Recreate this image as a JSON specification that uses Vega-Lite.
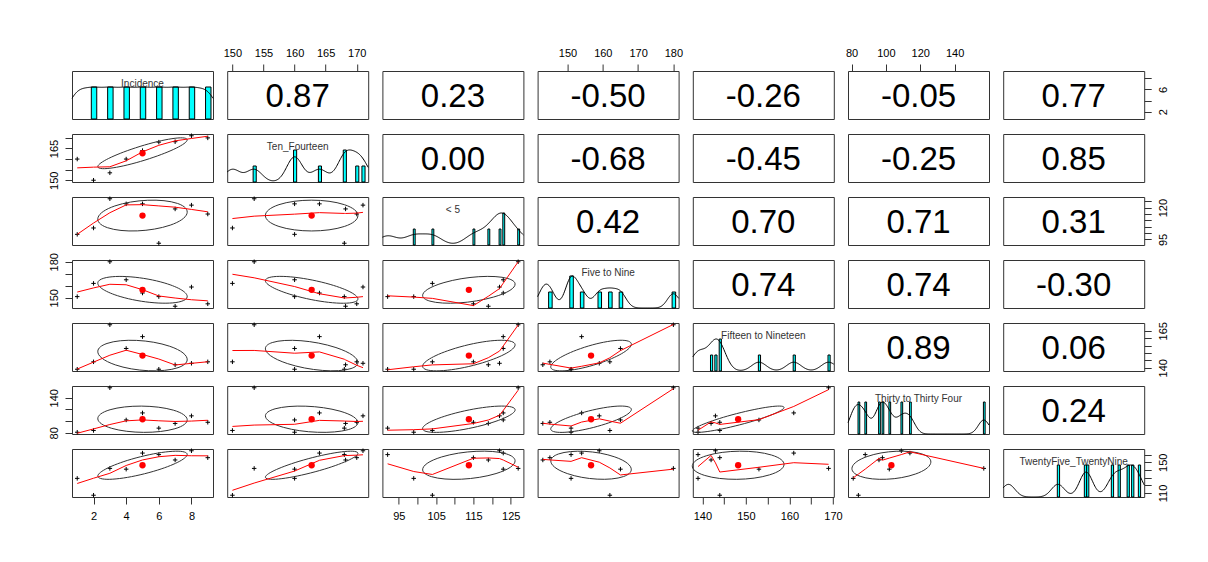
{
"$schema":"https://vega.github.io/schema/vega-lite/v6.json",
"padding":{"left":47,"top":46,"right":5,"bottom":5},
"background":"white",
"datasets":{"d":[
{"Incidence":1,"Ten_Fourteen":160,"Under5":99,"Five_Nine":151,"Fifteen_Nineteen":139,"Thirty_ThirtyFour":81,"TwentyFive_TwentyNine":129},
{"Incidence":2,"Ten_Fourteen":150,"Under5":104,"Five_Nine":162,"Fifteen_Nineteen":144,"Thirty_ThirtyFour":84,"TwentyFive_TwentyNine":107},
{"Incidence":3,"Ten_Fourteen":153.5,"Under5":127,"Five_Nine":180,"Fifteen_Nineteen":169,"Thirty_ThirtyFour":157,"TwentyFive_TwentyNine":142},
{"Incidence":4,"Ten_Fourteen":160,"Under5":123,"Five_Nine":165,"Fifteen_Nineteen":153,"Thirty_ThirtyFour":102,"TwentyFive_TwentyNine":141},
{"Incidence":5,"Ten_Fourteen":164,"Under5":123,"Five_Nine":154,"Fifteen_Nineteen":161,"Thirty_ThirtyFour":114,"TwentyFive_TwentyNine":162},
{"Incidence":6,"Ten_Fourteen":168,"Under5":92,"Five_Nine":151,"Fifteen_Nineteen":139,"Thirty_ThirtyFour":88,"TwentyFive_TwentyNine":160},
{"Incidence":7,"Ten_Fourteen":168.2,"Under5":119,"Five_Nine":143,"Fifteen_Nineteen":142,"Thirty_ThirtyFour":96,"TwentyFive_TwentyNine":153},
{"Incidence":8,"Ten_Fourteen":171,"Under5":122,"Five_Nine":159,"Fifteen_Nineteen":143,"Thirty_ThirtyFour":109,"TwentyFive_TwentyNine":165},
{"Incidence":9,"Ten_Fourteen":170,"Under5":115,"Five_Nine":145,"Fifteen_Nineteen":144,"Thirty_ThirtyFour":98,"TwentyFive_TwentyNine":156}
]},
"columns":7,
"spacing":{"row":15,"column":14.2},
"bounds":"flush",
"concat":[
{"width":141,"height":48,"data":{"name":"d"},"layer":[
 {"mark":{"type":"bar","fill":"#00FFFF","stroke":"black","strokeWidth":1,"binSpacing":0,"opacity":1},"encoding":{"x":{"field":"Incidence","bin":{"step":0.3333333,"anchor":0.8333333},"type":"quantitative","scale":{"domain":[0.68,9.32],"nice":false,"zero":false},"axis":null},"y":{"aggregate":"count","type":"quantitative","scale":{"domain":[0,1.5]},"axis":null}}},
 {"transform":[{"density":"Incidence","bandwidth":0.561,"extent":[0.68,9.32],"steps":200}],"mark":{"type":"line","color":"black","strokeWidth":1},"encoding":{"x":{"field":"value","type":"quantitative","scale":{"domain":[0.68,9.32],"nice":false,"zero":false},"axis":null},"y":{"field":"density","type":"quantitative","scale":{"domain":[0,0.1674]},"axis":null}}},
 {"data":{"values":[{"name":"Incidence"}]},"mark":{"type":"text","fontSize":10,"color":"#333"},"encoding":{"text":{"field":"name"},"x":{"datum":5,"type":"quantitative","scale":{"domain":[0.68,9.32],"nice":false,"zero":false},"axis":null},"y":{"datum":7.052,"type":"quantitative","scale":{"domain":[0.68,9.32],"nice":false,"zero":false},"axis":null}}}
],"resolve":{"scale":{"y":"independent"}}},
{"width":141,"height":48,"data":{"values":[{"r":"0.87"}]},"mark":{"type":"text","fontSize":33,"baseline":"middle","dy":2},"encoding":{"text":{"field":"r"},"x":{"datum":160.5,"type":"quantitative","scale":{"domain":[149.16,171.84],"nice":false,"zero":false},"axis":{"orient":"top","values":[150,155,160,165,170],"title":null}},"y":{"datum":0.5,"type":"quantitative","scale":{"domain":[0,1]},"axis":null}}},
{"width":141,"height":48,"data":{"values":[{"r":"0.23"}]},"mark":{"type":"text","fontSize":33,"baseline":"middle","dy":2},"encoding":{"text":{"field":"r"},"x":{"datum":0.5,"type":"quantitative","scale":{"domain":[0,1]},"axis":null},"y":{"datum":0.5,"type":"quantitative","scale":{"domain":[0,1]},"axis":null}}},
{"width":141,"height":48,"data":{"values":[{"r":"-0.50"}]},"mark":{"type":"text","fontSize":33,"baseline":"middle","dy":2},"encoding":{"text":{"field":"r"},"x":{"datum":161.5,"type":"quantitative","scale":{"domain":[141.52,181.48],"nice":false,"zero":false},"axis":{"orient":"top","values":[150,160,170,180],"title":null}},"y":{"datum":0.5,"type":"quantitative","scale":{"domain":[0,1]},"axis":null}}},
{"width":141,"height":48,"data":{"values":[{"r":"-0.26"}]},"mark":{"type":"text","fontSize":33,"baseline":"middle","dy":2},"encoding":{"text":{"field":"r"},"x":{"datum":0.5,"type":"quantitative","scale":{"domain":[0,1]},"axis":null},"y":{"datum":0.5,"type":"quantitative","scale":{"domain":[0,1]},"axis":null}}},
{"width":141,"height":48,"data":{"values":[{"r":"-0.05"}]},"mark":{"type":"text","fontSize":33,"baseline":"middle","dy":2},"encoding":{"text":{"field":"r"},"x":{"datum":119,"type":"quantitative","scale":{"domain":[77.96,160.04],"nice":false,"zero":false},"axis":{"orient":"top","values":[80,100,120,140],"title":null}},"y":{"datum":0.5,"type":"quantitative","scale":{"domain":[0,1]},"axis":null}}},
{"width":141,"height":48,"data":{"values":[{"r":"0.77"}]},"mark":{"type":"text","fontSize":33,"baseline":"middle","dy":2},"encoding":{"text":{"field":"r"},"x":{"datum":0.5,"type":"quantitative","scale":{"domain":[0,1]},"axis":null},"y":{"datum":5,"type":"quantitative","scale":{"domain":[0.68,9.32],"nice":false,"zero":false},"axis":{"orient":"right","values":[2,4,6,8],"labelExpr":"datum.value == 2 || datum.value == 6 ? datum.label : ''","title":null}}}},

{"width":141,"height":48,"data":{"name":"d"},"encoding":{"x":{"field":"Incidence","type":"quantitative","scale":{"domain":[0.68,9.32],"nice":false,"zero":false},"axis":null},"y":{"field":"Ten_Fourteen","type":"quantitative","scale":{"domain":[149.16,171.84],"nice":false,"zero":false},"axis":{"orient":"left","values":[150,155,160,165,170],"labelExpr":"datum.value == 150 || datum.value == 165 ? datum.label : ''","title":null}}},"layer":[
 {"mark":{"type":"point","shape":"M-1,0H1M0,-1V1","filled":false,"color":"black","strokeWidth":1,"size":20,"opacity":1}},
 {"transform":[{"aggregate":[{"op":"mean","field":"Incidence","as":"Incidence"},{"op":"mean","field":"Ten_Fourteen","as":"Ten_Fourteen"}]}],"layer":[
  {"mark":{"type":"point","shape":"M43.2,-14.9C36.9,-17.1 12.5,-12.2 -11.4,-3.9C-35.3,4.3 -49.5,12.7 -43.2,14.9C-36.9,17.1 -12.5,12.2 11.4,3.9C35.3,-4.3 49.5,-12.7 43.2,-14.9Z","filled":false,"color":"#333","strokeWidth":1,"size":4,"opacity":1}},
  {"mark":{"type":"point","shape":"circle","filled":true,"color":"red","size":40,"opacity":1}}]},
 {"transform":[{"loess":"Ten_Fourteen","on":"Incidence","bandwidth":0.667}],"mark":{"type":"line","color":"red","strokeWidth":1}}]},
{"width":141,"height":48,"data":{"name":"d"},"layer":[
 {"mark":{"type":"bar","fill":"#00FFFF","stroke":"black","strokeWidth":1,"binSpacing":0,"opacity":1},"encoding":{"x":{"field":"Ten_Fourteen","bin":{"step":0.5,"anchor":0.25},"type":"quantitative","scale":{"domain":[149.16,171.84],"nice":false,"zero":false},"axis":null},"y":{"aggregate":"count","type":"quantitative","scale":{"domain":[0,3]},"axis":null}}},
 {"transform":[{"density":"Ten_Fourteen","bandwidth":1.254,"extent":[149.16,171.84],"steps":200}],"mark":{"type":"line","color":"black","strokeWidth":1},"encoding":{"x":{"field":"value","type":"quantitative","scale":{"domain":[149.16,171.84],"nice":false,"zero":false},"axis":null},"y":{"field":"density","type":"quantitative","scale":{"domain":[0,0.1353]},"axis":null}}},
 {"data":{"values":[{"name":"Ten_Fourteen"}]},"mark":{"type":"text","fontSize":10,"color":"#333"},"encoding":{"text":{"field":"name"},"x":{"datum":160.5,"type":"quantitative","scale":{"domain":[149.16,171.84],"nice":false,"zero":false},"axis":null},"y":{"datum":165.887,"type":"quantitative","scale":{"domain":[149.16,171.84],"nice":false,"zero":false},"axis":null}}}
],"resolve":{"scale":{"y":"independent"}}},
{"width":141,"height":48,"data":{"values":[{"r":"0.00"}]},"mark":{"type":"text","fontSize":33,"baseline":"middle","dy":2},"encoding":{"text":{"field":"r"},"x":{"datum":0.5,"type":"quantitative","scale":{"domain":[0,1]},"axis":null},"y":{"datum":0.5,"type":"quantitative","scale":{"domain":[0,1]},"axis":null}}},
{"width":141,"height":48,"data":{"values":[{"r":"-0.68"}]},"mark":{"type":"text","fontSize":33,"baseline":"middle","dy":2},"encoding":{"text":{"field":"r"},"x":{"datum":0.5,"type":"quantitative","scale":{"domain":[0,1]},"axis":null},"y":{"datum":0.5,"type":"quantitative","scale":{"domain":[0,1]},"axis":null}}},
{"width":141,"height":48,"data":{"values":[{"r":"-0.45"}]},"mark":{"type":"text","fontSize":33,"baseline":"middle","dy":2},"encoding":{"text":{"field":"r"},"x":{"datum":0.5,"type":"quantitative","scale":{"domain":[0,1]},"axis":null},"y":{"datum":0.5,"type":"quantitative","scale":{"domain":[0,1]},"axis":null}}},
{"width":141,"height":48,"data":{"values":[{"r":"-0.25"}]},"mark":{"type":"text","fontSize":33,"baseline":"middle","dy":2},"encoding":{"text":{"field":"r"},"x":{"datum":0.5,"type":"quantitative","scale":{"domain":[0,1]},"axis":null},"y":{"datum":0.5,"type":"quantitative","scale":{"domain":[0,1]},"axis":null}}},
{"width":141,"height":48,"data":{"values":[{"r":"0.85"}]},"mark":{"type":"text","fontSize":33,"baseline":"middle","dy":2},"encoding":{"text":{"field":"r"},"x":{"datum":0.5,"type":"quantitative","scale":{"domain":[0,1]},"axis":null},"y":{"datum":0.5,"type":"quantitative","scale":{"domain":[0,1]},"axis":null}}},

{"width":141,"height":48,"data":{"name":"d"},"encoding":{"x":{"field":"Incidence","type":"quantitative","scale":{"domain":[0.68,9.32],"nice":false,"zero":false},"axis":null},"y":{"field":"Under5","type":"quantitative","scale":{"domain":[90.6,128.4],"nice":false,"zero":false},"axis":null}},"layer":[
 {"mark":{"type":"point","shape":"M-1,0H1M0,-1V1","filled":false,"color":"black","strokeWidth":1,"size":20,"opacity":1}},
 {"transform":[{"aggregate":[{"op":"mean","field":"Incidence","as":"Incidence"},{"op":"mean","field":"Under5","as":"Under5"}]}],"layer":[
  {"mark":{"type":"point","shape":"M35.1,-12.1C19.7,-17.4 -8.4,-16.2 -27.7,-9.6C-47.1,-2.9 -50.4,6.8 -35.1,12.1C-19.7,17.4 8.4,16.2 27.7,9.6C47.1,2.9 50.4,-6.8 35.1,-12.1Z","filled":false,"color":"#333","strokeWidth":1,"size":4,"opacity":1}},
  {"mark":{"type":"point","shape":"circle","filled":true,"color":"red","size":40,"opacity":1}}]},
 {"transform":[{"loess":"Under5","on":"Incidence","bandwidth":0.667}],"mark":{"type":"line","color":"red","strokeWidth":1}}]},
{"width":141,"height":48,"data":{"name":"d"},"encoding":{"x":{"field":"Ten_Fourteen","type":"quantitative","scale":{"domain":[149.16,171.84],"nice":false,"zero":false},"axis":null},"y":{"field":"Under5","type":"quantitative","scale":{"domain":[90.6,128.4],"nice":false,"zero":false},"axis":null}},"layer":[
 {"mark":{"type":"point","shape":"M-1,0H1M0,-1V1","filled":false,"color":"black","strokeWidth":1,"size":20,"opacity":1}},
 {"transform":[{"aggregate":[{"op":"mean","field":"Ten_Fourteen","as":"Ten_Fourteen"},{"op":"mean","field":"Under5","as":"Under5"}]}],"layer":[
  {"mark":{"type":"point","shape":"M32.7,-10.9C14.6,-16.9 -14.6,-16.9 -32.7,-10.9C-50.8,-4.9 -50.8,4.9 -32.7,10.9C-14.6,16.9 14.6,16.9 32.7,10.9C50.8,4.9 50.8,-4.9 32.7,-10.9Z","filled":false,"color":"#333","strokeWidth":1,"size":4,"opacity":1}},
  {"mark":{"type":"point","shape":"circle","filled":true,"color":"red","size":40,"opacity":1}}]},
 {"transform":[{"loess":"Under5","on":"Ten_Fourteen","bandwidth":0.667}],"mark":{"type":"line","color":"red","strokeWidth":1}}]},
{"width":141,"height":48,"data":{"name":"d"},"layer":[
 {"mark":{"type":"bar","fill":"#00FFFF","stroke":"black","strokeWidth":1,"binSpacing":0,"opacity":1},"encoding":{"x":{"field":"Under5","bin":{"step":0.5,"anchor":0.25},"type":"quantitative","scale":{"domain":[90.6,128.4],"nice":false,"zero":false},"axis":null},"y":{"aggregate":"count","type":"quantitative","scale":{"domain":[0,3]},"axis":null}}},
 {"transform":[{"density":"Under5","bandwidth":2.541,"extent":[90.6,128.4],"steps":200}],"mark":{"type":"line","color":"black","strokeWidth":1},"encoding":{"x":{"field":"value","type":"quantitative","scale":{"domain":[90.6,128.4],"nice":false,"zero":false},"axis":null},"y":{"field":"density","type":"quantitative","scale":{"domain":[0,0.0929]},"axis":null}}},
 {"data":{"values":[{"name":"< 5"}]},"mark":{"type":"text","fontSize":10,"color":"#333"},"encoding":{"text":{"field":"name"},"x":{"datum":109.5,"type":"quantitative","scale":{"domain":[90.6,128.4],"nice":false,"zero":false},"axis":null},"y":{"datum":118.478,"type":"quantitative","scale":{"domain":[90.6,128.4],"nice":false,"zero":false},"axis":null}}}
],"resolve":{"scale":{"y":"independent"}}},
{"width":141,"height":48,"data":{"values":[{"r":"0.42"}]},"mark":{"type":"text","fontSize":33,"baseline":"middle","dy":2},"encoding":{"text":{"field":"r"},"x":{"datum":0.5,"type":"quantitative","scale":{"domain":[0,1]},"axis":null},"y":{"datum":0.5,"type":"quantitative","scale":{"domain":[0,1]},"axis":null}}},
{"width":141,"height":48,"data":{"values":[{"r":"0.70"}]},"mark":{"type":"text","fontSize":33,"baseline":"middle","dy":2},"encoding":{"text":{"field":"r"},"x":{"datum":0.5,"type":"quantitative","scale":{"domain":[0,1]},"axis":null},"y":{"datum":0.5,"type":"quantitative","scale":{"domain":[0,1]},"axis":null}}},
{"width":141,"height":48,"data":{"values":[{"r":"0.71"}]},"mark":{"type":"text","fontSize":33,"baseline":"middle","dy":2},"encoding":{"text":{"field":"r"},"x":{"datum":0.5,"type":"quantitative","scale":{"domain":[0,1]},"axis":null},"y":{"datum":0.5,"type":"quantitative","scale":{"domain":[0,1]},"axis":null}}},
{"width":141,"height":48,"data":{"values":[{"r":"0.31"}]},"mark":{"type":"text","fontSize":33,"baseline":"middle","dy":2},"encoding":{"text":{"field":"r"},"x":{"datum":0.5,"type":"quantitative","scale":{"domain":[0,1]},"axis":null},"y":{"datum":109.5,"type":"quantitative","scale":{"domain":[90.6,128.4],"nice":false,"zero":false},"axis":{"orient":"right","values":[95,100,105,110,115,120,125],"labelExpr":"datum.value == 95 || datum.value == 120 ? datum.label : ''","title":null}}}},

{"width":141,"height":48,"data":{"name":"d"},"encoding":{"x":{"field":"Incidence","type":"quantitative","scale":{"domain":[0.68,9.32],"nice":false,"zero":false},"axis":null},"y":{"field":"Five_Nine","type":"quantitative","scale":{"domain":[141.52,181.48],"nice":false,"zero":false},"axis":{"orient":"left","values":[150,160,170,180],"labelExpr":"datum.value == 150 || datum.value == 180 ? datum.label : ''","title":null}}},"layer":[
 {"mark":{"type":"point","shape":"M-1,0H1M0,-1V1","filled":false,"color":"black","strokeWidth":1,"size":20,"opacity":1}},
 {"transform":[{"aggregate":[{"op":"mean","field":"Incidence","as":"Incidence"},{"op":"mean","field":"Five_Nine","as":"Five_Nine"}]}],"layer":[
  {"mark":{"type":"point","shape":"M22.4,-6.7C1,-13.1 -26.4,-15.3 -38.7,-11.6C-51.1,-7.9 -43.7,0.3 -22.4,6.7C-1,13.1 26.4,15.3 38.7,11.6C51.1,7.9 43.7,-0.3 22.4,-6.7Z","filled":false,"color":"#333","strokeWidth":1,"size":4,"opacity":1}},
  {"mark":{"type":"point","shape":"circle","filled":true,"color":"red","size":40,"opacity":1}}]},
 {"transform":[{"loess":"Five_Nine","on":"Incidence","bandwidth":0.667}],"mark":{"type":"line","color":"red","strokeWidth":1}}]},
{"width":141,"height":48,"data":{"name":"d"},"encoding":{"x":{"field":"Ten_Fourteen","type":"quantitative","scale":{"domain":[149.16,171.84],"nice":false,"zero":false},"axis":null},"y":{"field":"Five_Nine","type":"quantitative","scale":{"domain":[141.52,181.48],"nice":false,"zero":false},"axis":null}},"layer":[
 {"mark":{"type":"point","shape":"M-1,0H1M0,-1V1","filled":false,"color":"black","strokeWidth":1,"size":20,"opacity":1}},
 {"transform":[{"aggregate":[{"op":"mean","field":"Ten_Fourteen","as":"Ten_Fourteen"},{"op":"mean","field":"Five_Nine","as":"Five_Nine"}]}],"layer":[
  {"mark":{"type":"point","shape":"M18.5,-5.4C-4.9,-12.2 -32.2,-15.3 -42.4,-12.3C-52.6,-9.3 -41.9,-1.4 -18.5,5.4C4.9,12.2 32.2,15.3 42.4,12.3C52.6,9.3 41.9,1.4 18.5,-5.4Z","filled":false,"color":"#333","strokeWidth":1,"size":4,"opacity":1}},
  {"mark":{"type":"point","shape":"circle","filled":true,"color":"red","size":40,"opacity":1}}]},
 {"transform":[{"loess":"Five_Nine","on":"Ten_Fourteen","bandwidth":0.667}],"mark":{"type":"line","color":"red","strokeWidth":1}}]},
{"width":141,"height":48,"data":{"name":"d"},"encoding":{"x":{"field":"Under5","type":"quantitative","scale":{"domain":[90.6,128.4],"nice":false,"zero":false},"axis":null},"y":{"field":"Five_Nine","type":"quantitative","scale":{"domain":[141.52,181.48],"nice":false,"zero":false},"axis":null}},"layer":[
 {"mark":{"type":"point","shape":"M-1,0H1M0,-1V1","filled":false,"color":"black","strokeWidth":1,"size":20,"opacity":1}},
 {"transform":[{"aggregate":[{"op":"mean","field":"Under5","as":"Under5"},{"op":"mean","field":"Five_Nine","as":"Five_Nine"}]}],"layer":[
  {"mark":{"type":"point","shape":"M39,-11.3C25.2,-15.3 -3.4,-13.5 -24.9,-7.2C-46.4,-1 -52.7,7.3 -39,11.3C-25.2,15.3 3.4,13.5 24.9,7.2C46.4,1 52.7,-7.3 39,-11.3Z","filled":false,"color":"#333","strokeWidth":1,"size":4,"opacity":1}},
  {"mark":{"type":"point","shape":"circle","filled":true,"color":"red","size":40,"opacity":1}}]},
 {"transform":[{"loess":"Five_Nine","on":"Under5","bandwidth":0.667}],"mark":{"type":"line","color":"red","strokeWidth":1}}]},
{"width":141,"height":48,"data":{"name":"d"},"layer":[
 {"mark":{"type":"bar","fill":"#00FFFF","stroke":"black","strokeWidth":1,"binSpacing":0,"opacity":1},"encoding":{"x":{"field":"Five_Nine","bin":{"step":1,"anchor":0.5},"type":"quantitative","scale":{"domain":[141.52,181.48],"nice":false,"zero":false},"axis":null},"y":{"aggregate":"count","type":"quantitative","scale":{"domain":[0,3]},"axis":null}}},
 {"transform":[{"density":"Five_Nine","bandwidth":1.682,"extent":[141.52,181.48],"steps":200}],"mark":{"type":"line","color":"black","strokeWidth":1},"encoding":{"x":{"field":"value","type":"quantitative","scale":{"domain":[141.52,181.48],"nice":false,"zero":false},"axis":null},"y":{"field":"density","type":"quantitative","scale":{"domain":[0,0.0888]},"axis":null}}},
 {"data":{"values":[{"name":"Five to Nine"}]},"mark":{"type":"text","fontSize":10,"color":"#333"},"encoding":{"text":{"field":"name"},"x":{"datum":161.5,"type":"quantitative","scale":{"domain":[141.52,181.48],"nice":false,"zero":false},"axis":null},"y":{"datum":170.991,"type":"quantitative","scale":{"domain":[141.52,181.48],"nice":false,"zero":false},"axis":null}}}
],"resolve":{"scale":{"y":"independent"}}},
{"width":141,"height":48,"data":{"values":[{"r":"0.74"}]},"mark":{"type":"text","fontSize":33,"baseline":"middle","dy":2},"encoding":{"text":{"field":"r"},"x":{"datum":0.5,"type":"quantitative","scale":{"domain":[0,1]},"axis":null},"y":{"datum":0.5,"type":"quantitative","scale":{"domain":[0,1]},"axis":null}}},
{"width":141,"height":48,"data":{"values":[{"r":"0.74"}]},"mark":{"type":"text","fontSize":33,"baseline":"middle","dy":2},"encoding":{"text":{"field":"r"},"x":{"datum":0.5,"type":"quantitative","scale":{"domain":[0,1]},"axis":null},"y":{"datum":0.5,"type":"quantitative","scale":{"domain":[0,1]},"axis":null}}},
{"width":141,"height":48,"data":{"values":[{"r":"-0.30"}]},"mark":{"type":"text","fontSize":33,"baseline":"middle","dy":2},"encoding":{"text":{"field":"r"},"x":{"datum":0.5,"type":"quantitative","scale":{"domain":[0,1]},"axis":null},"y":{"datum":0.5,"type":"quantitative","scale":{"domain":[0,1]},"axis":null}}},

{"width":141,"height":48,"data":{"name":"d"},"encoding":{"x":{"field":"Incidence","type":"quantitative","scale":{"domain":[0.68,9.32],"nice":false,"zero":false},"axis":null},"y":{"field":"Fifteen_Nineteen","type":"quantitative","scale":{"domain":[137.8,170.2],"nice":false,"zero":false},"axis":null}},"layer":[
 {"mark":{"type":"point","shape":"M-1,0H1M0,-1V1","filled":false,"color":"black","strokeWidth":1,"size":20,"opacity":1}},
 {"transform":[{"aggregate":[{"op":"mean","field":"Incidence","as":"Incidence"},{"op":"mean","field":"Fifteen_Nineteen","as":"Fifteen_Nineteen"}]}],"layer":[
  {"mark":{"type":"point","shape":"M27.2,-9.3C7.6,-16 -20.5,-17.3 -35.5,-12.1C-50.5,-7 -46.8,2.6 -27.2,9.3C-7.6,16 20.5,17.3 35.5,12.1C50.5,7 46.8,-2.6 27.2,-9.3Z","filled":false,"color":"#333","strokeWidth":1,"size":4,"opacity":1}},
  {"mark":{"type":"point","shape":"circle","filled":true,"color":"red","size":40,"opacity":1}}]},
 {"transform":[{"loess":"Fifteen_Nineteen","on":"Incidence","bandwidth":0.667}],"mark":{"type":"line","color":"red","strokeWidth":1}}]},
{"width":141,"height":48,"data":{"name":"d"},"encoding":{"x":{"field":"Ten_Fourteen","type":"quantitative","scale":{"domain":[149.16,171.84],"nice":false,"zero":false},"axis":null},"y":{"field":"Fifteen_Nineteen","type":"quantitative","scale":{"domain":[137.8,170.2],"nice":false,"zero":false},"axis":null}},"layer":[
 {"mark":{"type":"point","shape":"M-1,0H1M0,-1V1","filled":false,"color":"black","strokeWidth":1,"size":20,"opacity":1}},
 {"transform":[{"aggregate":[{"op":"mean","field":"Ten_Fourteen","as":"Ten_Fourteen"},{"op":"mean","field":"Fifteen_Nineteen","as":"Fifteen_Nineteen"}]}],"layer":[
  {"mark":{"type":"point","shape":"M24.3,-8C2.5,-15.2 -26,-17.4 -39.4,-13C-52.8,-8.6 -46,0.8 -24.3,8C-2.5,15.2 26,17.4 39.4,13C52.8,8.6 46,-0.8 24.3,-8Z","filled":false,"color":"#333","strokeWidth":1,"size":4,"opacity":1}},
  {"mark":{"type":"point","shape":"circle","filled":true,"color":"red","size":40,"opacity":1}}]},
 {"transform":[{"loess":"Fifteen_Nineteen","on":"Ten_Fourteen","bandwidth":0.667}],"mark":{"type":"line","color":"red","strokeWidth":1}}]},
{"width":141,"height":48,"data":{"name":"d"},"encoding":{"x":{"field":"Under5","type":"quantitative","scale":{"domain":[90.6,128.4],"nice":false,"zero":false},"axis":null},"y":{"field":"Fifteen_Nineteen","type":"quantitative","scale":{"domain":[137.8,170.2],"nice":false,"zero":false},"axis":null}},"layer":[
 {"mark":{"type":"point","shape":"M-1,0H1M0,-1V1","filled":false,"color":"black","strokeWidth":1,"size":20,"opacity":1}},
 {"transform":[{"aggregate":[{"op":"mean","field":"Under5","as":"Under5"},{"op":"mean","field":"Fifteen_Nineteen","as":"Fifteen_Nineteen"}]}],"layer":[
  {"mark":{"type":"point","shape":"M42.6,-14.1C32.7,-17.4 5.6,-13.7 -17.9,-5.9C-41.5,1.9 -52.5,10.8 -42.6,14.1C-32.7,17.4 -5.6,13.7 17.9,5.9C41.5,-1.9 52.5,-10.8 42.6,-14.1Z","filled":false,"color":"#333","strokeWidth":1,"size":4,"opacity":1}},
  {"mark":{"type":"point","shape":"circle","filled":true,"color":"red","size":40,"opacity":1}}]},
 {"transform":[{"loess":"Fifteen_Nineteen","on":"Under5","bandwidth":0.667}],"mark":{"type":"line","color":"red","strokeWidth":1}}]},
{"width":141,"height":48,"data":{"name":"d"},"encoding":{"x":{"field":"Five_Nine","type":"quantitative","scale":{"domain":[141.52,181.48],"nice":false,"zero":false},"axis":null},"y":{"field":"Fifteen_Nineteen","type":"quantitative","scale":{"domain":[137.8,170.2],"nice":false,"zero":false},"axis":null}},"layer":[
 {"mark":{"type":"point","shape":"M-1,0H1M0,-1V1","filled":false,"color":"black","strokeWidth":1,"size":20,"opacity":1}},
 {"transform":[{"aggregate":[{"op":"mean","field":"Five_Nine","as":"Five_Nine"},{"op":"mean","field":"Fifteen_Nineteen","as":"Fifteen_Nineteen"}]}],"layer":[
  {"mark":{"type":"point","shape":"M37.6,-14.3C29.5,-17.3 6.2,-13.4 -14.5,-5.5C-35.3,2.4 -45.6,11.2 -37.6,14.3C-29.5,17.3 -6.2,13.4 14.5,5.5C35.3,-2.4 45.6,-11.2 37.6,-14.3Z","filled":false,"color":"#333","strokeWidth":1,"size":4,"opacity":1}},
  {"mark":{"type":"point","shape":"circle","filled":true,"color":"red","size":40,"opacity":1}}]},
 {"transform":[{"loess":"Fifteen_Nineteen","on":"Five_Nine","bandwidth":0.667}],"mark":{"type":"line","color":"red","strokeWidth":1}}]},
{"width":141,"height":48,"data":{"name":"d"},"layer":[
 {"mark":{"type":"bar","fill":"#00FFFF","stroke":"black","strokeWidth":1,"binSpacing":0,"opacity":1},"encoding":{"x":{"field":"Fifteen_Nineteen","bin":{"step":0.5,"anchor":0.25},"type":"quantitative","scale":{"domain":[137.8,170.2],"nice":false,"zero":false},"axis":null},"y":{"aggregate":"count","type":"quantitative","scale":{"domain":[0,3]},"axis":null}}},
 {"transform":[{"density":"Fifteen_Nineteen","bandwidth":1.682,"extent":[137.8,170.2],"steps":200}],"mark":{"type":"line","color":"black","strokeWidth":1},"encoding":{"x":{"field":"value","type":"quantitative","scale":{"domain":[137.8,170.2],"nice":false,"zero":false},"axis":null},"y":{"field":"density","type":"quantitative","scale":{"domain":[0,0.1439]},"axis":null}}},
 {"data":{"values":[{"name":"Fifteen to Nineteen"}]},"mark":{"type":"text","fontSize":10,"color":"#333"},"encoding":{"text":{"field":"name"},"x":{"datum":154,"type":"quantitative","scale":{"domain":[137.8,170.2],"nice":false,"zero":false},"axis":null},"y":{"datum":161.695,"type":"quantitative","scale":{"domain":[137.8,170.2],"nice":false,"zero":false},"axis":null}}}
],"resolve":{"scale":{"y":"independent"}}},
{"width":141,"height":48,"data":{"values":[{"r":"0.89"}]},"mark":{"type":"text","fontSize":33,"baseline":"middle","dy":2},"encoding":{"text":{"field":"r"},"x":{"datum":0.5,"type":"quantitative","scale":{"domain":[0,1]},"axis":null},"y":{"datum":0.5,"type":"quantitative","scale":{"domain":[0,1]},"axis":null}}},
{"width":141,"height":48,"data":{"values":[{"r":"0.06"}]},"mark":{"type":"text","fontSize":33,"baseline":"middle","dy":2},"encoding":{"text":{"field":"r"},"x":{"datum":0.5,"type":"quantitative","scale":{"domain":[0,1]},"axis":null},"y":{"datum":154,"type":"quantitative","scale":{"domain":[137.8,170.2],"nice":false,"zero":false},"axis":{"orient":"right","values":[140,145,150,155,160,165],"labelExpr":"datum.value == 140 || datum.value == 165 ? datum.label : ''","title":null}}}},

{"width":141,"height":48,"data":{"name":"d"},"encoding":{"x":{"field":"Incidence","type":"quantitative","scale":{"domain":[0.68,9.32],"nice":false,"zero":false},"axis":null},"y":{"field":"Thirty_ThirtyFour","type":"quantitative","scale":{"domain":[77.96,160.04],"nice":false,"zero":false},"axis":{"orient":"left","values":[80,100,120,140],"labelExpr":"datum.value == 80 || datum.value == 140 ? datum.label : ''","title":null}}},"layer":[
 {"mark":{"type":"point","shape":"M-1,0H1M0,-1V1","filled":false,"color":"black","strokeWidth":1,"size":20,"opacity":1}},
 {"transform":[{"aggregate":[{"op":"mean","field":"Incidence","as":"Incidence"},{"op":"mean","field":"Thirty_ThirtyFour","as":"Thirty_ThirtyFour"}]}],"layer":[
  {"mark":{"type":"point","shape":"M30.8,-9.1C12.9,-14.3 -15.4,-14.5 -32.4,-9.5C-49.4,-4.5 -48.7,3.8 -30.8,9.1C-12.9,14.3 15.4,14.5 32.4,9.5C49.4,4.5 48.7,-3.8 30.8,-9.1Z","filled":false,"color":"#333","strokeWidth":1,"size":4,"opacity":1}},
  {"mark":{"type":"point","shape":"circle","filled":true,"color":"red","size":40,"opacity":1}}]},
 {"transform":[{"loess":"Thirty_ThirtyFour","on":"Incidence","bandwidth":0.667}],"mark":{"type":"line","color":"red","strokeWidth":1}}]},
{"width":141,"height":48,"data":{"name":"d"},"encoding":{"x":{"field":"Ten_Fourteen","type":"quantitative","scale":{"domain":[149.16,171.84],"nice":false,"zero":false},"axis":null},"y":{"field":"Thirty_ThirtyFour","type":"quantitative","scale":{"domain":[77.96,160.04],"nice":false,"zero":false},"axis":null}},"layer":[
 {"mark":{"type":"point","shape":"M-1,0H1M0,-1V1","filled":false,"color":"black","strokeWidth":1,"size":20,"opacity":1}},
 {"transform":[{"aggregate":[{"op":"mean","field":"Ten_Fourteen","as":"Ten_Fourteen"},{"op":"mean","field":"Thirty_ThirtyFour","as":"Thirty_ThirtyFour"}]}],"layer":[
  {"mark":{"type":"point","shape":"M28.3,-8.1C8.1,-13.8 -20.9,-14.8 -36.6,-10.4C-52.2,-5.9 -48.5,2.3 -28.3,8.1C-8.1,13.8 20.9,14.8 36.6,10.4C52.2,5.9 48.5,-2.3 28.3,-8.1Z","filled":false,"color":"#333","strokeWidth":1,"size":4,"opacity":1}},
  {"mark":{"type":"point","shape":"circle","filled":true,"color":"red","size":40,"opacity":1}}]},
 {"transform":[{"loess":"Thirty_ThirtyFour","on":"Ten_Fourteen","bandwidth":0.667}],"mark":{"type":"line","color":"red","strokeWidth":1}}]},
{"width":141,"height":48,"data":{"name":"d"},"encoding":{"x":{"field":"Under5","type":"quantitative","scale":{"domain":[90.6,128.4],"nice":false,"zero":false},"axis":null},"y":{"field":"Thirty_ThirtyFour","type":"quantitative","scale":{"domain":[77.96,160.04],"nice":false,"zero":false},"axis":null}},"layer":[
 {"mark":{"type":"point","shape":"M-1,0H1M0,-1V1","filled":false,"color":"black","strokeWidth":1,"size":20,"opacity":1}},
 {"transform":[{"aggregate":[{"op":"mean","field":"Under5","as":"Under5"},{"op":"mean","field":"Thirty_ThirtyFour","as":"Thirty_ThirtyFour"}]}],"layer":[
  {"mark":{"type":"point","shape":"M42.8,-12.2C33,-14.9 6,-11.7 -17.6,-5C-41.2,1.7 -52.5,9.4 -42.8,12.2C-33,14.9 -6,11.7 17.6,5C41.2,-1.7 52.5,-9.4 42.8,-12.2Z","filled":false,"color":"#333","strokeWidth":1,"size":4,"opacity":1}},
  {"mark":{"type":"point","shape":"circle","filled":true,"color":"red","size":40,"opacity":1}}]},
 {"transform":[{"loess":"Thirty_ThirtyFour","on":"Under5","bandwidth":0.667}],"mark":{"type":"line","color":"red","strokeWidth":1}}]},
{"width":141,"height":48,"data":{"name":"d"},"encoding":{"x":{"field":"Five_Nine","type":"quantitative","scale":{"domain":[141.52,181.48],"nice":false,"zero":false},"axis":null},"y":{"field":"Thirty_ThirtyFour","type":"quantitative","scale":{"domain":[77.96,160.04],"nice":false,"zero":false},"axis":null}},"layer":[
 {"mark":{"type":"point","shape":"M-1,0H1M0,-1V1","filled":false,"color":"black","strokeWidth":1,"size":20,"opacity":1}},
 {"transform":[{"aggregate":[{"op":"mean","field":"Five_Nine","as":"Five_Nine"},{"op":"mean","field":"Thirty_ThirtyFour","as":"Thirty_ThirtyFour"}]}],"layer":[
  {"mark":{"type":"point","shape":"M37.6,-12.3C29.5,-14.9 6.2,-11.5 -14.5,-4.7C-35.3,2 -45.6,9.6 -37.6,12.3C-29.5,14.9 -6.2,11.5 14.5,4.7C35.3,-2 45.6,-9.6 37.6,-12.3Z","filled":false,"color":"#333","strokeWidth":1,"size":4,"opacity":1}},
  {"mark":{"type":"point","shape":"circle","filled":true,"color":"red","size":40,"opacity":1}}]},
 {"transform":[{"loess":"Thirty_ThirtyFour","on":"Five_Nine","bandwidth":0.667}],"mark":{"type":"line","color":"red","strokeWidth":1}}]},
{"width":141,"height":48,"data":{"name":"d"},"encoding":{"x":{"field":"Fifteen_Nineteen","type":"quantitative","scale":{"domain":[137.8,170.2],"nice":false,"zero":false},"axis":null},"y":{"field":"Thirty_ThirtyFour","type":"quantitative","scale":{"domain":[77.96,160.04],"nice":false,"zero":false},"axis":null}},"layer":[
 {"mark":{"type":"point","shape":"M-1,0H1M0,-1V1","filled":false,"color":"black","strokeWidth":1,"size":20,"opacity":1}},
 {"transform":[{"aggregate":[{"op":"mean","field":"Fifteen_Nineteen","as":"Fifteen_Nineteen"},{"op":"mean","field":"Thirty_ThirtyFour","as":"Thirty_ThirtyFour"}]}],"layer":[
  {"mark":{"type":"point","shape":"M44.6,-12.8C38.7,-14.5 13.9,-10.1 -10.8,-3.1C-35.4,4 -50.5,11.1 -44.6,12.8C-38.7,14.5 -13.9,10.1 10.8,3.1C35.4,-4 50.5,-11.1 44.6,-12.8Z","filled":false,"color":"#333","strokeWidth":1,"size":4,"opacity":1}},
  {"mark":{"type":"point","shape":"circle","filled":true,"color":"red","size":40,"opacity":1}}]},
 {"transform":[{"loess":"Thirty_ThirtyFour","on":"Fifteen_Nineteen","bandwidth":0.667}],"mark":{"type":"line","color":"red","strokeWidth":1}}]},
{"width":141,"height":48,"data":{"name":"d"},"layer":[
 {"mark":{"type":"bar","fill":"#00FFFF","stroke":"black","strokeWidth":1,"binSpacing":0,"opacity":1},"encoding":{"x":{"field":"Thirty_ThirtyFour","bin":{"step":1,"anchor":0.5},"type":"quantitative","scale":{"domain":[77.96,160.04],"nice":false,"zero":false},"axis":null},"y":{"aggregate":"count","type":"quantitative","scale":{"domain":[0,1.5]},"axis":null}}},
 {"transform":[{"density":"Thirty_ThirtyFour","bandwidth":3.211,"extent":[77.96,160.04],"steps":200}],"mark":{"type":"line","color":"black","strokeWidth":1},"encoding":{"x":{"field":"value","type":"quantitative","scale":{"domain":[77.96,160.04],"nice":false,"zero":false},"axis":null},"y":{"field":"density","type":"quantitative","scale":{"domain":[0,0.0474]},"axis":null}}},
 {"data":{"values":[{"name":"Thirty to Thirty Four"}]},"mark":{"type":"text","fontSize":10,"color":"#333"},"encoding":{"text":{"field":"name"},"x":{"datum":119,"type":"quantitative","scale":{"domain":[77.96,160.04],"nice":false,"zero":false},"axis":null},"y":{"datum":138.494,"type":"quantitative","scale":{"domain":[77.96,160.04],"nice":false,"zero":false},"axis":null}}}
],"resolve":{"scale":{"y":"independent"}}},
{"width":141,"height":48,"data":{"values":[{"r":"0.24"}]},"mark":{"type":"text","fontSize":33,"baseline":"middle","dy":2},"encoding":{"text":{"field":"r"},"x":{"datum":0.5,"type":"quantitative","scale":{"domain":[0,1]},"axis":null},"y":{"datum":0.5,"type":"quantitative","scale":{"domain":[0,1]},"axis":null}}},

{"width":141,"height":48,"data":{"name":"d"},"encoding":{"x":{"field":"Incidence","type":"quantitative","scale":{"domain":[0.68,9.32],"nice":false,"zero":false},"axis":{"orient":"bottom","values":[2,4,6,8],"title":null}},"y":{"field":"TwentyFive_TwentyNine","type":"quantitative","scale":{"domain":[104.68,167.32],"nice":false,"zero":false},"axis":null}},"layer":[
 {"mark":{"type":"point","shape":"M-1,0H1M0,-1V1","filled":false,"color":"black","strokeWidth":1,"size":20,"opacity":1}},
 {"transform":[{"aggregate":[{"op":"mean","field":"Incidence","as":"Incidence"},{"op":"mean","field":"TwentyFive_TwentyNine","as":"TwentyFive_TwentyNine"}]}],"layer":[
  {"mark":{"type":"point","shape":"M42,-13.2C33.7,-15.9 8.1,-12.1 -15.2,-4.8C-38.4,2.5 -50.4,10.6 -42,13.2C-33.7,15.9 -8.1,12.1 15.2,4.8C38.4,-2.5 50.4,-10.6 42,-13.2Z","filled":false,"color":"#333","strokeWidth":1,"size":4,"opacity":1}},
  {"mark":{"type":"point","shape":"circle","filled":true,"color":"red","size":40,"opacity":1}}]},
 {"transform":[{"loess":"TwentyFive_TwentyNine","on":"Incidence","bandwidth":0.667}],"mark":{"type":"line","color":"red","strokeWidth":1}}]},
{"width":141,"height":48,"data":{"name":"d"},"encoding":{"x":{"field":"Ten_Fourteen","type":"quantitative","scale":{"domain":[149.16,171.84],"nice":false,"zero":false},"axis":null},"y":{"field":"TwentyFive_TwentyNine","type":"quantitative","scale":{"domain":[104.68,167.32],"nice":false,"zero":false},"axis":null}},"layer":[
 {"mark":{"type":"point","shape":"M-1,0H1M0,-1V1","filled":false,"color":"black","strokeWidth":1,"size":20,"opacity":1}},
 {"transform":[{"aggregate":[{"op":"mean","field":"Ten_Fourteen","as":"Ten_Fourteen"},{"op":"mean","field":"TwentyFive_TwentyNine","as":"TwentyFive_TwentyNine"}]}],"layer":[
  {"mark":{"type":"point","shape":"M44.5,-13.5C37.5,-15.7 11.9,-11.3 -12.7,-3.9C-37.2,3.6 -51.5,11.4 -44.5,13.5C-37.5,15.7 -11.9,11.3 12.7,3.9C37.2,-3.6 51.5,-11.4 44.5,-13.5Z","filled":false,"color":"#333","strokeWidth":1,"size":4,"opacity":1}},
  {"mark":{"type":"point","shape":"circle","filled":true,"color":"red","size":40,"opacity":1}}]},
 {"transform":[{"loess":"TwentyFive_TwentyNine","on":"Ten_Fourteen","bandwidth":0.667}],"mark":{"type":"line","color":"red","strokeWidth":1}}]},
{"width":141,"height":48,"data":{"name":"d"},"encoding":{"x":{"field":"Under5","type":"quantitative","scale":{"domain":[90.6,128.4],"nice":false,"zero":false},"axis":{"orient":"bottom","values":[95,100,105,110,115,120,125],"labelExpr":"datum.value % 10 == 5 ? datum.label : ''","title":null}},"y":{"field":"TwentyFive_TwentyNine","type":"quantitative","scale":{"domain":[104.68,167.32],"nice":false,"zero":false},"axis":null}},"layer":[
 {"mark":{"type":"point","shape":"M-1,0H1M0,-1V1","filled":false,"color":"black","strokeWidth":1,"size":20,"opacity":1}},
 {"transform":[{"aggregate":[{"op":"mean","field":"Under5","as":"Under5"},{"op":"mean","field":"TwentyFive_TwentyNine","as":"TwentyFive_TwentyNine"}]}],"layer":[
  {"mark":{"type":"point","shape":"M37.4,-11.4C22.4,-16 -6.5,-14.6 -27.2,-8.3C-47.8,-2 -52.4,6.8 -37.4,11.4C-22.4,16 6.5,14.6 27.2,8.3C47.8,2 52.4,-6.8 37.4,-11.4Z","filled":false,"color":"#333","strokeWidth":1,"size":4,"opacity":1}},
  {"mark":{"type":"point","shape":"circle","filled":true,"color":"red","size":40,"opacity":1}}]},
 {"transform":[{"loess":"TwentyFive_TwentyNine","on":"Under5","bandwidth":0.667}],"mark":{"type":"line","color":"red","strokeWidth":1}}]},
{"width":141,"height":48,"data":{"name":"d"},"encoding":{"x":{"field":"Five_Nine","type":"quantitative","scale":{"domain":[141.52,181.48],"nice":false,"zero":false},"axis":null},"y":{"field":"TwentyFive_TwentyNine","type":"quantitative","scale":{"domain":[104.68,167.32],"nice":false,"zero":false},"axis":null}},"layer":[
 {"mark":{"type":"point","shape":"M-1,0H1M0,-1V1","filled":false,"color":"black","strokeWidth":1,"size":20,"opacity":1}},
 {"transform":[{"aggregate":[{"op":"mean","field":"Five_Nine","as":"Five_Nine"},{"op":"mean","field":"TwentyFive_TwentyNine","as":"TwentyFive_TwentyNine"}]}],"layer":[
  {"mark":{"type":"point","shape":"M23.8,-8.3C5.9,-14.6 -19.3,-15.9 -32.5,-11.3C-45.6,-6.7 -41.7,2.1 -23.8,8.3C-5.9,14.6 19.3,15.9 32.5,11.3C45.6,6.7 41.7,-2.1 23.8,-8.3Z","filled":false,"color":"#333","strokeWidth":1,"size":4,"opacity":1}},
  {"mark":{"type":"point","shape":"circle","filled":true,"color":"red","size":40,"opacity":1}}]},
 {"transform":[{"loess":"TwentyFive_TwentyNine","on":"Five_Nine","bandwidth":0.667}],"mark":{"type":"line","color":"red","strokeWidth":1}}]},
{"width":141,"height":48,"data":{"name":"d"},"encoding":{"x":{"field":"Fifteen_Nineteen","type":"quantitative","scale":{"domain":[137.8,170.2],"nice":false,"zero":false},"axis":{"orient":"bottom","values":[140,145,150,155,160,165,170],"labelExpr":"datum.value % 10 == 0 ? datum.label : ''","title":null}},"y":{"field":"TwentyFive_TwentyNine","type":"quantitative","scale":{"domain":[104.68,167.32],"nice":false,"zero":false},"axis":null}},"layer":[
 {"mark":{"type":"point","shape":"M-1,0H1M0,-1V1","filled":false,"color":"black","strokeWidth":1,"size":20,"opacity":1}},
 {"transform":[{"aggregate":[{"op":"mean","field":"Fifteen_Nineteen","as":"Fifteen_Nineteen"},{"op":"mean","field":"TwentyFive_TwentyNine","as":"TwentyFive_TwentyNine"}]}],"layer":[
  {"mark":{"type":"point","shape":"M33.4,-10.2C16,-15.6 -13,-15.3 -31.4,-9.6C-49.9,-4 -50.8,4.9 -33.4,10.2C-16,15.6 13,15.3 31.4,9.6C49.9,4 50.8,-4.9 33.4,-10.2Z","filled":false,"color":"#333","strokeWidth":1,"size":4,"opacity":1}},
  {"mark":{"type":"point","shape":"circle","filled":true,"color":"red","size":40,"opacity":1}}]},
 {"transform":[{"loess":"TwentyFive_TwentyNine","on":"Fifteen_Nineteen","bandwidth":0.667}],"mark":{"type":"line","color":"red","strokeWidth":1}}]},
{"width":141,"height":48,"data":{"name":"d"},"encoding":{"x":{"field":"Thirty_ThirtyFour","type":"quantitative","scale":{"domain":[77.96,160.04],"nice":false,"zero":false},"axis":null},"y":{"field":"TwentyFive_TwentyNine","type":"quantitative","scale":{"domain":[104.68,167.32],"nice":false,"zero":false},"axis":null}},"layer":[
 {"mark":{"type":"point","shape":"M-1,0H1M0,-1V1","filled":false,"color":"black","strokeWidth":1,"size":20,"opacity":1}},
 {"transform":[{"aggregate":[{"op":"mean","field":"Thirty_ThirtyFour","as":"Thirty_ThirtyFour"},{"op":"mean","field":"TwentyFive_TwentyNine","as":"TwentyFive_TwentyNine"}]}],"layer":[
  {"mark":{"type":"point","shape":"M31.1,-11.1C17.6,-15.9 -7.2,-14.8 -24.3,-8.7C-41.5,-2.6 -44.5,6.3 -31.1,11.1C-17.6,15.9 7.2,14.8 24.3,8.7C41.5,2.6 44.5,-6.3 31.1,-11.1Z","filled":false,"color":"#333","strokeWidth":1,"size":4,"opacity":1}},
  {"mark":{"type":"point","shape":"circle","filled":true,"color":"red","size":40,"opacity":1}}]},
 {"transform":[{"loess":"TwentyFive_TwentyNine","on":"Thirty_ThirtyFour","bandwidth":0.667}],"mark":{"type":"line","color":"red","strokeWidth":1}}]},
{"width":141,"height":48,"data":{"name":"d"},"layer":[
 {"mark":{"type":"bar","fill":"#00FFFF","stroke":"black","strokeWidth":1,"binSpacing":0,"opacity":1},"encoding":{"x":{"field":"TwentyFive_TwentyNine","bin":{"step":1,"anchor":0.5},"type":"quantitative","scale":{"domain":[104.68,167.32],"nice":false,"zero":false},"axis":null},"y":{"aggregate":"count","type":"quantitative","scale":{"domain":[0,1.5]},"axis":null}}},
 {"transform":[{"density":"TwentyFive_TwentyNine","bandwidth":2.905,"extent":[104.68,167.32],"steps":200}],"mark":{"type":"line","color":"black","strokeWidth":1},"encoding":{"x":{"field":"value","type":"quantitative","scale":{"domain":[104.68,167.32],"nice":false,"zero":false},"axis":null},"y":{"field":"density","type":"quantitative","scale":{"domain":[0,0.0579]},"axis":null}}},
 {"data":{"values":[{"name":"TwentyFive_TwentyNine"}]},"mark":{"type":"text","fontSize":10,"color":"#333"},"encoding":{"text":{"field":"name"},"x":{"datum":136,"type":"quantitative","scale":{"domain":[104.68,167.32],"nice":false,"zero":false},"axis":{"orient":"bottom","values":[110,120,130,140,150,160],"labelExpr":"datum.value % 20 == 10 ? datum.label : ''","title":null}},"y":{"datum":150.877,"type":"quantitative","scale":{"domain":[104.68,167.32],"nice":false,"zero":false},"axis":{"orient":"right","values":[110,120,130,140,150,160],"labelExpr":"datum.value == 110 || datum.value == 150 ? datum.label : ''","title":null}}}}
],"resolve":{"scale":{"y":"independent"}}}
],
"config":{
 "font":"Liberation Sans",
 "view":{"stroke":"#333","strokeWidth":1},
 "axis":{"grid":false,"domain":false,"ticks":true,"tickColor":"#333","tickSize":7,"tickWidth":1,"labelFontSize":11,"labelColor":"#000","labelPadding":6,"labelFlush":false,"labelOverlap":false,"labelFont":"Liberation Sans"},
 "axisLeft":{"labelAngle":270,"labelAlign":"center","labelBaseline":"bottom"},
 "axisRight":{"labelAngle":270,"labelAlign":"center","labelBaseline":"top"},
 "text":{"font":"Liberation Sans","color":"black"}
}
}
